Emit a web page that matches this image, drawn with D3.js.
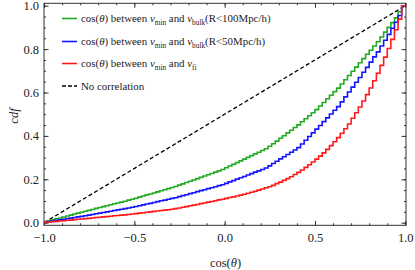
<!DOCTYPE html>
<html>
<head>
<meta charset="utf-8">
<script src="https://cdn.jsdelivr.net/npm/d3@7"></script>
<style>
  body { margin: 0; background: #fff; }
  svg text { font-family: "Liberation Serif", "DejaVu Serif", serif; fill: #222; }
</style>
</head>
<body>
<svg id="SVG_CONTAINER" width="415" height="270"></svg>
<script>
// cumulative fraction at the right edge of each bin (bin width 0.02, from -1 to 1)
const binEdges = d3.range(0, 101).map(i => -1 + i * 0.02);

const cdfBulk100 = [
  0.004,0.009,0.013,0.018,0.022,0.026,0.031,0.035,0.040,0.044,
  0.048,0.053,0.057,0.061,0.066,0.070,0.074,0.078,0.083,0.087,
  0.091,0.095,0.099,0.104,0.108,0.113,0.118,0.123,0.128,0.132,
  0.137,0.142,0.147,0.152,0.157,0.162,0.167,0.173,0.179,0.185,
  0.191,0.197,0.203,0.209,0.215,0.221,0.227,0.233,0.239,0.245,
  0.253,0.261,0.269,0.277,0.285,0.293,0.301,0.309,0.317,0.325,
  0.333,0.341,0.352,0.364,0.376,0.389,0.401,0.414,0.426,0.439,
  0.451,0.465,0.479,0.493,0.507,0.521,0.538,0.554,0.571,0.587,
  0.604,0.620,0.639,0.659,0.678,0.698,0.717,0.737,0.756,0.776,
  0.795,0.814,0.834,0.856,0.878,0.900,0.922,0.944,0.972,1.000
];

const cdfBulk50 = [
  0.003,0.005,0.008,0.011,0.013,0.016,0.019,0.021,0.024,0.027,
  0.029,0.032,0.035,0.038,0.041,0.044,0.047,0.050,0.053,0.056,
  0.059,0.062,0.065,0.068,0.071,0.075,0.078,0.082,0.086,0.089,
  0.093,0.097,0.101,0.104,0.108,0.112,0.115,0.120,0.125,0.129,
  0.134,0.138,0.143,0.148,0.152,0.157,0.161,0.166,0.171,0.175,
  0.181,0.188,0.194,0.201,0.207,0.213,0.220,0.226,0.233,0.239,
  0.245,0.252,0.262,0.273,0.283,0.294,0.304,0.314,0.325,0.335,
  0.346,0.363,0.380,0.397,0.414,0.431,0.448,0.466,0.483,0.501,
  0.518,0.535,0.557,0.580,0.602,0.625,0.647,0.669,0.693,0.716,
  0.740,0.764,0.787,0.814,0.841,0.868,0.896,0.924,0.955,1.000
];

const cdfFi = [
  0.002,0.003,0.005,0.006,0.008,0.009,0.011,0.012,0.014,0.016,
  0.017,0.019,0.020,0.022,0.024,0.025,0.027,0.028,0.030,0.032,
  0.033,0.035,0.036,0.038,0.040,0.042,0.044,0.046,0.048,0.050,
  0.052,0.054,0.056,0.058,0.060,0.062,0.065,0.068,0.071,0.074,
  0.078,0.081,0.084,0.088,0.091,0.095,0.098,0.101,0.105,0.108,
  0.112,0.116,0.119,0.123,0.127,0.131,0.136,0.140,0.145,0.150,
  0.155,0.161,0.166,0.172,0.180,0.187,0.195,0.203,0.212,0.222,
  0.232,0.243,0.255,0.267,0.280,0.293,0.307,0.322,0.338,0.355,
  0.373,0.392,0.412,0.433,0.455,0.481,0.507,0.533,0.561,0.590,
  0.621,0.654,0.689,0.725,0.763,0.803,0.845,0.889,0.938,1.000
];

const noCorrX = [-1, 1];
const noCorrY = [0, 1];

const xTicks = [-1, -0.5, 0, 0.5, 1];
const yTicks = [0, 0.2, 0.4, 0.6, 0.8, 1.0];

const seriesNames = ["bulk100", "bulk50", "fi"];
const seriesColors = ["#22aa22", "#1414ff", "#ff1a1a"];

const FRAME = { LEFT: 44, RIGHT: 406, TOP: 3.3, BOTTOM: 225.3 };

const svg = d3.select("#SVG_CONTAINER");

const xScale = d3.scaleLinear().domain([-1, 1]).range([44, 405.3]);
const yScale = d3.scaleLinear().domain([0, 1]).range([222.7, 5.7]);

// frame
svg.append("rect")
  .attr("x", FRAME.LEFT).attr("y", FRAME.TOP)
  .attr("width", FRAME.RIGHT - FRAME.LEFT)
  .attr("height", FRAME.BOTTOM - FRAME.TOP)
  .attr("fill", "none").attr("stroke", "#333").attr("stroke-width", 1);

const fmt = d => d < 0 ? "\u2212" + d3.format(".1f")(-d) : d3.format(".1f")(d);
const xMinor = d3.range(-10, 11).map(i => i / 10);
const yMinor = d3.range(0, 21).map(i => i / 20);

// ticks, drawn with the d3 axes (inward)
svg.append("g").attr("transform", "translate(0," + FRAME.BOTTOM + ")")
  .call(d3.axisBottom(xScale).tickValues(xMinor).tickSize(-2).tickFormat(""));
svg.append("g").attr("transform", "translate(0," + FRAME.BOTTOM + ")")
  .attr("class", "xAxis")
  .call(d3.axisBottom(xScale).tickValues(xTicks).tickSize(-4.5).tickPadding(8).tickFormat(fmt));
svg.append("g").attr("transform", "translate(0," + FRAME.TOP + ")")
  .call(d3.axisTop(xScale).tickValues(xMinor).tickSize(-2).tickFormat(""));
svg.append("g").attr("transform", "translate(0," + FRAME.TOP + ")")
  .call(d3.axisTop(xScale).tickValues(xTicks).tickSize(-4.5).tickFormat(""));

svg.append("g").attr("transform", "translate(" + FRAME.LEFT + ",0)")
  .call(d3.axisLeft(yScale).tickValues(yMinor).tickSize(-2).tickFormat(""));
svg.append("g").attr("transform", "translate(" + FRAME.LEFT + ",0)")
  .attr("class", "yAxis")
  .call(d3.axisLeft(yScale).tickValues(yTicks).tickSize(-4.5).tickPadding(5).tickFormat(fmt));
svg.append("g").attr("transform", "translate(" + FRAME.RIGHT + ",0)")
  .call(d3.axisRight(yScale).tickValues(yMinor).tickSize(-2).tickFormat(""));
svg.append("g").attr("transform", "translate(" + FRAME.RIGHT + ",0)")
  .call(d3.axisRight(yScale).tickValues(yTicks).tickSize(-4.5).tickFormat(""));

svg.selectAll(".domain").remove();
svg.selectAll(".tick line").attr("stroke", "#333");
svg.selectAll(".tick text")
  .attr("font-family", "Liberation Serif").attr("font-size", "12.5px").attr("fill", "#222");

// no correlation diagonal
svg.append("path")
  .datum(noCorrX.map((x, i) => [x, noCorrY[i]]))
  .attr("d", d3.line().x(d => xScale(d[0])).y(d => yScale(d[1])))
  .attr("fill", "none").attr("stroke", "#000")
  .attr("stroke-width", 1.3).attr("stroke-dasharray", "4,2.5");

// step cdf curves
const allSeries = [cdfBulk100, cdfBulk50, cdfFi];
const stepLine = d3.line()
  .x(d => xScale(d[0])).y(d => yScale(d[1]))
  .curve(d3.curveStepAfter);

allSeries.forEach(function (vals, k) {
  const pts = vals.map((v, i) => [binEdges[i], v]);
  pts.push([binEdges[100], vals[vals.length - 1]]);
  svg.append("path")
    .datum(pts)
    .attr("class", seriesNames[k])
    .attr("d", stepLine)
    .attr("fill", "none")
    .attr("stroke", seriesColors[k])
    .attr("stroke-width", 1.6)
    .attr("stroke-linejoin", "miter");
});

// legend
const legendRows = [
  { color: seriesColors[0], sub2: "bulk", tail: "(R<100Mpc/h)" },
  { color: seriesColors[1], sub2: "bulk", tail: "(R<50Mpc/h)" },
  { color: seriesColors[2], sub2: "fi", tail: "" },
];
const legendY = [18.5, 41.5, 63.5, 86];
const legend = svg.append("g").attr("class", "legend");

legendRows.forEach(function (r, i) {
  legend.append("line")
    .attr("x1", 62).attr("x2", 77).attr("y1", legendY[i]).attr("y2", legendY[i])
    .attr("stroke", r.color).attr("stroke-width", 1.6);
  const t = legend.append("text").attr("x", 81).attr("y", legendY[i] + 3.5)
    .attr("font-size", "10.9px");
  t.append("tspan").text("cos(");
  t.append("tspan").attr("font-style", "italic").text("\u03b8");
  t.append("tspan").text(") between ");
  t.append("tspan").attr("font-style", "italic").text("v");
  t.append("tspan").attr("font-size", "7.3px").attr("dy", 2.5).text("min");
  t.append("tspan").attr("dy", -2.5).text(" and ");
  t.append("tspan").attr("font-style", "italic").text("v");
  t.append("tspan").attr("font-size", "7.3px").attr("dy", 2.5).text(r.sub2);
  if (r.tail) t.append("tspan").attr("dy", -2.5).text(r.tail);
});

legend.append("line")
  .attr("x1", 62).attr("x2", 77).attr("y1", legendY[3]).attr("y2", legendY[3])
  .attr("stroke", "#000").attr("stroke-width", 1.3).attr("stroke-dasharray", "4,2");
legend.append("text").attr("x", 81).attr("y", legendY[3] + 3.5)
  .attr("font-size", "10.9px").text("No correlation");

// axis titles
const xt = svg.append("text").attr("x", 225.5).attr("y", 266.5)
  .attr("text-anchor", "middle").attr("font-size", "12.5px");
xt.append("tspan").text("cos(");
xt.append("tspan").attr("font-style", "italic").text("\u03b8");
xt.append("tspan").text(")");

svg.append("text")
  .attr("transform", "translate(18,116) rotate(-90)")
  .attr("text-anchor", "middle").attr("font-size", "12.5px")
  .attr("font-style", "italic").text("cdf");
</script>
</body>
</html>
